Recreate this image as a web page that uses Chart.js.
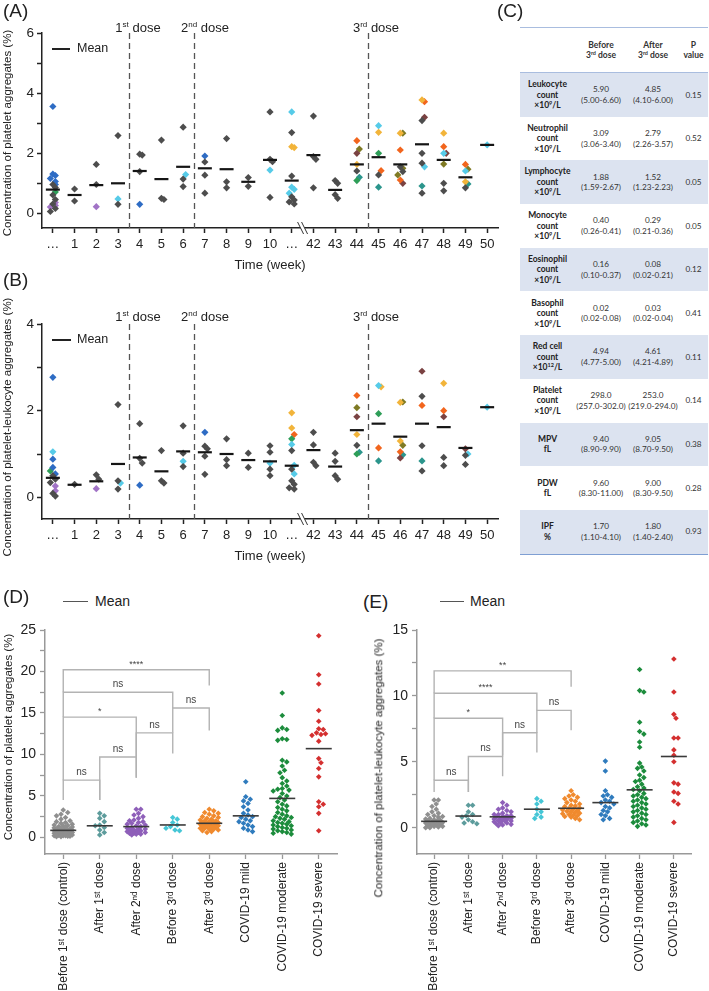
<!DOCTYPE html>
<html>
<head>
<meta charset="utf-8">
<script src="https://cdn.jsdelivr.net/npm/chart.js@4.4.1/dist/chart.umd.min.js"></script>
<style>
body { margin: 0; background: #fff; font-family: 'Liberation Sans', Arial, sans-serif; }
#page { position: relative; width: 709px; height: 991px; overflow: hidden; }
canvas { position: absolute; }
.t { position: absolute; white-space: nowrap; color: #222; line-height: 1; }
.panel { font-size: 19px; }
.dose { font-size: 13px; transform: translateX(-50%); }
.dose sup { font-size: 8px; }
.ytitle { position: absolute; white-space: nowrap; font-size: 11.5px; color: #222; line-height: 1;
  transform: translate(-50%, -50%) rotate(-90deg); }
.mline { position: absolute; height: 0; }
#tbl { position: absolute; left: 520px; top: 27px; width: 188px; border-collapse: collapse;
  font-family: Lato, 'Open Sans', sans-serif; font-size: 8.2px; color: #333; text-align: center;
  border-top: 1.5px solid #a9bddf; border-bottom: 1.5px solid #7f9fd3; }
#tbl td { padding: 0; line-height: 10.5px; }
#tbl tr.hd td { height: 44px; font-weight: bold; font-size: 8.5px; border-bottom: 1px solid #a9bddf; }
#tbl tr.row td { height: 43.7px; }
#tbl tr.row td:first-child { font-weight: bold; color: #222; font-size: 8.5px; }
#tbl tr.sh { background: #dce3f0; }
#tbl sup { font-size: 5.5px; vertical-align: 3px; line-height: 0; }
</style>
</head>
<body>
<div id="page">
  <canvas id="chartA" width="520" height="275" style="left:0;top:0;width:520px;height:275px"></canvas>
  <canvas id="chartB" width="520" height="275" style="left:0;top:291px;width:520px;height:275px"></canvas>
  <canvas id="chartD" width="355" height="376" style="left:0;top:615px;width:355px;height:376px"></canvas>
  <canvas id="chartE" width="354" height="376" style="left:355px;top:615px;width:354px;height:376px"></canvas>

  <div class="t panel" style="left:3px;top:1px">(A)</div>
  <div class="t panel" style="left:3px;top:270px">(B)</div>
  <div class="t panel" style="left:497px;top:1px">(C)</div>
  <div class="t panel" style="left:3px;top:587px">(D)</div>
  <div class="t panel" style="left:363px;top:592px">(E)</div>

  <div class="t dose" style="left:138px;top:21px">1<sup>st</sup> dose</div>
  <div class="t dose" style="left:205px;top:21px">2<sup>nd</sup> dose</div>
  <div class="t dose" style="left:376px;top:21px">3<sup>rd</sup> dose</div>
  <div class="t dose" style="left:138px;top:310px">1<sup>st</sup> dose</div>
  <div class="t dose" style="left:205px;top:310px">2<sup>nd</sup> dose</div>
  <div class="t dose" style="left:376px;top:310px">3<sup>rd</sup> dose</div>

  <div class="mline" style="left:52px;top:48px;width:18px;border-top:2px solid #222"></div>
  <div class="t" style="left:77px;top:42px;font-size:12.5px">Mean</div>
  <div class="mline" style="left:52px;top:339px;width:19px;border-top:2px solid #222"></div>
  <div class="t" style="left:77px;top:333px;font-size:12.5px">Mean</div>
  <div class="mline" style="left:63px;top:601px;width:25px;border-top:1.5px solid #555"></div>
  <div class="t" style="left:95px;top:594px;font-size:14px">Mean</div>
  <div class="mline" style="left:440px;top:601px;width:24px;border-top:1.5px solid #555"></div>
  <div class="t" style="left:470px;top:594px;font-size:14px">Mean</div>

  <div class="ytitle" style="left:8px;top:133px">Concentration of platelet aggregates (%)</div>
  <div class="ytitle" style="left:8px;top:427px">Concentration of platelet-leukocyte aggregates (%)</div>
  <div class="ytitle" style="left:9px;top:737px">Concentration of platelet aggregates (%)</div>
  <div class="ytitle" style="left:379px;top:768px">Concentration of platelet-leukocyte aggregates (%)</div>

  <table id="tbl"></table>
</div>

<script>
// ---- panels A / B : week time course ----
const weekLabels = ['…', '1', '2', '3', '4', '5', '6', '7', '8', '9', '10', '…', '42', '43', '44', '45', '46', '47', '48', '49', '50'];
const doseAt = [3.5, 6.5, 14.5];
const breakAt = 11.5;

// [week index, value]
const aDark = [[0,0.95],[0,0.85],[0,0.6],[0,0.45],[0,0.3],[0,0.15],[0,0.05],[1,0.8],[1,0.4],[2,1.62],[2,0.95],[3,2.58],[3,0.29],
  [4,1.96],[4,1.93],[4,1.38],[5,2.43],[5,0.49],[5,0.45],[6,2.86],[6,1.13],[6,0.88],[7,1.7],[7,1.26],[7,0.66],[8,2.48],[8,1.04],[8,0.84],
  [9,1.18],[9,0.89],[10,3.37],[10,1.79],[10,1.71],[10,0.52],[11,2.68],[11,1.23],[11,0.54],[11,0.43],[11,0.37],[11,0.3],
  [12,3.23],[12,1.88],[12,1.79],[12,0.84],[13,1.08],[13,0.99],[13,0.61],[13,0.49],[14,1.4],[15,1.27],[16,1.54],[16,1.38],
  [17,3.08],[17,1.99],[17,1.66],[17,0.66],[18,0.99],[18,0.74],[19,0.84]];
const aBlue = [[0,3.55],[0,1.3],[0,1.25],[0,1.15],[0,1.05],[0,0.95],[4,0.29],[7,1.9]];
const aCyan = [[3,0.47],[6,1.28],[10,1.43],[11,3.37],[11,0.86],[11,0.79],[11,0.66],[15,2.91],[17,1.54],[18,1.99],[19,1.4],[20,2.27]];
const aGreen = [[0,0.7],[14,1.08],[15,1.99]];
const aPurple = [[0,0.35],[0,0.25],[0,0.2],[2,0.21]];
const aGold = [[11,2.21],[11,2.18],[14,1.62],[15,2.69],[16,2.66],[17,3.77],[18,2.66],[19,1.04]];
const aOrange = [[14,2.41],[15,1.41],[16,2.1],[16,1.1],[17,3.71],[18,2.21],[19,1.62]];
const aBrown = [[14,1.99],[16,0.99],[17,3.19],[18,1.99]];
const aOlive = [[14,2.13],[16,2.66],[16,1.49],[16,1.27],[18,1.63],[19,1.46]];
const aTeal = [[14,1.19],[15,0.86],[17,0.9],[19,0.97]];
const aMean = [0.78, 0.6, 0.93, 0.99, 1.4, 1.13, 1.54, 1.49, 1.46, 1.04, 1.77, 1.08, 1.93, 0.77, 1.62, 1.86, 1.62, 2.29, 1.77, 1.19, 2.27];

const bDark = [[0,0.5],[0,0.42],[0,0.34],[0,0.09],[0,0.03],[1,0.3],[2,0.52],[2,0.42],[3,2.14],[3,0.38],[3,0.19],
  [4,1.7],[4,0.9],[4,0.79],[5,1.08],[5,0.38],[5,0.33],[6,1.65],[6,1.02],[6,0.71],[7,1.18],[7,1.12],[7,0.95],[7,0.53],
  [8,1.35],[8,0.87],[8,0.73],[9,1.02],[9,0.69],[10,1.19],[10,1.04],[10,0.65],[10,0.5],
  [11,1.08],[11,0.65],[11,0.38],[11,0.3],[11,0.22],[11,0.19],[12,1.5],[12,1.21],[12,0.81],[12,0.73],
  [13,1.02],[13,0.83],[13,0.5],[13,0.42],[14,1.2],[17,2.33],[17,1.19],[17,0.61],[18,0.92],[18,0.73],[19,0.97],[19,0.76]];
const bBlue = [[0,2.77],[0,0.88],[0,0.69],[0,0.54],[4,0.28],[7,1.5]];
const bCyan = [[0,1.05],[3,0.33],[6,0.83],[10,0.79],[11,1.22],[11,0.74],[11,0.54],[15,2.58],[19,1.0],[20,2.08]];
const bGreen = [[0,0.61],[11,1.35],[14,1.0],[15,1.93]];
const bPurple = [[0,0.26],[0,0.15],[2,0.2]];
const bGold = [[11,1.95],[11,1.6],[14,1.45],[15,2.55],[16,2.19],[16,1.3],[18,2.63]];
const bOrange = [[11,1.45],[14,2.35],[15,1.14],[16,1.05],[17,2.12],[18,2.0]];
const bBrown = [[14,1.86],[16,0.91],[17,2.91],[18,1.86],[19,1.12]];
const bOlive = [[14,2.07],[16,2.2],[16,1.2]];
const bTeal = [[14,1.04],[15,0.84],[16,0.98],[17,0.84]];
const bMean = [0.45, 0.29, 0.37, 0.77, 0.92, 0.6, 1.06, 1.04, 1.0, 0.86, 0.83, 0.73, 1.09, 0.71, 1.55, 1.7, 1.4, 1.7, 1.62, 1.14, 2.08];

// ---- panels D / E : groups ----
const groupLabels = ['Before 1ˢᵗ dose (control)', 'After 1ˢᵗ dose', 'After 2ⁿᵈ dose', 'Before 3ʳᵈ dose',
  'After 3ʳᵈ dose', 'COVID-19 mild', 'COVID-19 moderate', 'COVID-19 severe'];

const dControl = [3.3, 3.0, 2.8, 2.6, 2.4, 2.2, 2.0, 1.9, 1.8, 1.7, 1.6, 1.5, 1.45, 1.4, 1.3, 1.25, 1.2, 1.15, 1.1, 1.05, 1.0,
  0.95, 0.9, 0.9, 0.85, 0.8, 0.8, 0.75, 0.7, 0.7, 0.65, 0.6, 0.6, 0.55, 0.5, 0.5, 0.45, 0.4, 0.4, 0.35, 0.3, 0.3, 0.25,
  0.2, 0.2, 0.15, 0.1, 0.1, 0.2, 0.3, 0.4, 0.5, 0.6, 0.35, 0.45, 0.55, 0.25, 0.15, 0.5, 0.6, 0.7, 0.3];
const dAfter1 = [2.9, 2.6, 2.3, 1.9, 1.5, 1.4, 1.2, 0.9, 0.6, 0.3];
const dAfter2 = [3.4, 3.4, 2.9, 2.7, 2.5, 2.3, 2.1, 2.0, 1.9, 1.8, 1.7, 1.6, 1.5, 1.4, 1.3, 1.2, 1.1, 1.0, 1.0, 0.9, 0.9,
  0.8, 0.8, 0.7, 0.7, 0.6, 0.6, 0.5, 0.5, 0.4, 0.4, 0.3];
const dBefore3 = [2.4, 2.2, 1.8, 1.5, 1.3, 1.1, 0.9, 0.8];
const dAfter3 = [3.4, 3.2, 3.0, 2.9, 2.8, 2.6, 2.5, 2.4, 2.3, 2.2, 2.1, 2.0, 2.0, 1.9, 1.9, 1.8, 1.8, 1.7, 1.7, 1.6, 1.6,
  1.5, 1.5, 1.4, 1.4, 1.3, 1.3, 1.2, 1.2, 1.1, 1.1, 1.0, 1.0, 0.9, 0.8, 0.7, 0.6];
const dMild = [6.7, 4.9, 4.6, 4.4, 4.1, 3.7, 3.3, 2.9, 2.7, 2.5, 2.4, 2.2, 2.0, 1.9, 1.7, 1.5, 1.3, 1.1, 0.9, 0.7];
const dModerate = [17.4, 14.7, 13.2, 13.0, 12.9, 11.9, 11.8, 11.7, 9.3, 9.1, 8.6, 8.1, 7.8, 7.2, 6.8, 6.5, 6.2, 5.9, 5.8,
  5.7, 5.6, 5.3, 5.0, 4.8, 4.5, 4.3, 4.0, 3.8, 3.6, 3.4, 3.2, 3.0, 2.8, 2.6, 2.5, 2.4, 2.3, 2.2, 2.0, 1.9, 1.8, 1.7,
  1.6, 1.5, 1.4, 1.3, 1.2, 1.1, 1.0, 0.9, 0.8, 0.7, 0.6, 0.5, 0.4];
const dSevere = [24.3, 19.6, 18.5, 15.3, 14.0, 13.1, 13.0, 12.6, 12.4, 12.5, 12.3, 11.6, 9.5, 9.0, 8.3, 7.3, 4.3, 4.0, 3.7, 2.9, 0.8];
const dMean = [0.85, 1.4, 1.3, 1.5, 1.7, 2.6, 4.7, 10.7];

const eControl = [2.1, 2.1, 1.8, 1.6, 1.4, 1.2, 1.1, 1.0, 0.9, 0.85, 0.8, 0.7, 0.65, 0.6, 0.55, 0.5, 0.5, 0.45, 0.4, 0.4,
  0.35, 0.3, 0.3, 0.25, 0.2, 0.2, 0.15, 0.1, 0.1, 0.05, 0.0, 0.0, 0.3, 0.6, 0.2, 0.4];
const eAfter1 = [1.7, 1.7, 1.2, 1.0, 0.9, 0.8, 0.6, 0.45, 0.35, 0.3];
const eAfter2 = [1.9, 1.7, 1.5, 1.4, 1.3, 1.2, 1.1, 1.0, 1.0, 0.9, 0.9, 0.85, 0.8, 0.8, 0.75, 0.7, 0.7, 0.65, 0.6, 0.6,
  0.55, 0.5, 0.5, 0.45, 0.4, 0.35, 0.3, 0.25, 0.2, 0.15];
const eBefore3 = [2.2, 2.0, 1.8, 1.4, 1.2, 1.0, 0.8, 0.7];
const eAfter3 = [2.8, 2.5, 2.4, 2.3, 2.2, 2.1, 2.0, 1.9, 1.8, 1.7, 1.65, 1.6, 1.5, 1.45, 1.4, 1.35, 1.3, 1.25, 1.2, 1.15,
  1.1, 1.05, 1.0, 0.95, 0.9, 0.85, 0.8, 0.7, 0.6];
const eMild = [5.05, 4.3, 2.8, 2.5, 2.4, 2.3, 2.1, 2.0, 1.9, 1.8, 1.6, 1.5, 1.3, 1.2, 1.0, 0.9, 0.7, 0.6];
const eModerate = [12.0, 10.4, 10.3, 8.0, 7.3, 7.1, 6.5, 6.1, 4.9, 4.6, 4.5, 4.3, 4.0, 3.8, 3.6, 3.5, 3.3, 3.1, 3.0, 2.9,
  2.8, 2.6, 2.5, 2.4, 2.3, 2.2, 2.1, 2.0, 1.9, 1.8, 1.7, 1.6, 1.5, 1.4, 1.3, 1.2, 1.1, 1.0, 0.9, 0.8, 0.7, 0.6, 0.5,
  0.4, 0.3, 0.2, 0.1];
const eSevere = [12.8, 10.3, 8.6, 8.3, 6.8, 6.8, 5.9, 5.5, 5.0, 3.4, 3.3, 2.7, 2.6, 2.0, 1.8, 0.4];
const eMean = [0.48, 0.88, 0.82, 1.4, 1.47, 1.9, 2.87, 5.4];

// significance brackets: [from, to, top, left leg end, right leg end]
const dBrackets = [[0,4,20.2,17.5,18.3],[0,3,17.5,14.5,15.6],[0,2,14.5,6.9,7.2],[3,4,15.6,12.6,12.9],[2,3,12.6,9.7,10.1],[1,2,9.7,4.5,7.2],[0,1,6.9,4.5,4.5]];
const dSig = ['****', 'ns', '*', 'ns', 'ns', 'ns', 'ns'];
const eBrackets = [[0,4,11.9,10.2,10.7],[0,3,10.2,8.3,8.9],[0,2,8.3,3.6,5.5],[3,4,8.9,7.2,7.4],[2,3,7.2,5.4,5.7],[1,2,5.4,2.7,3.9],[0,1,3.6,2.7,2.7]];
const eSig = ['**', '****', '*', 'ns', 'ns', 'ns', 'ns'];

// ---- panel C : table ----
const tblNames = ['Leukocyte<br>count<br>×10<sup>9</sup>/L', 'Neutrophil<br>count<br>×10<sup>9</sup>/L', 'Lymphocyte<br>count<br>×10<sup>9</sup>/L',
  'Monocyte<br>count<br>×10<sup>9</sup>/L', 'Eosinophil<br>count<br>×10<sup>9</sup>/L', 'Basophil<br>count<br>×10<sup>9</sup>/L',
  'Red cell<br>count<br>×10<sup>12</sup>/L', 'Platelet<br>count<br>×10<sup>9</sup>/L', 'MPV<br>fL', 'PDW<br>fL', 'IPF<br>%'];
const tblBefore = ['5.90', '3.09', '1.88', '0.40', '0.16', '0.02', '4.94', '298.0', '9.40', '9.60', '1.70'];
const tblBeforeRange = ['5.00-6.60', '3.06-3.40', '1.59-2.67', '0.26-0.41', '0.10-0.37', '0.02-0.08', '4.77-5.00', '257.0-302.0', '8.90-9.90', '8.30-11.00', '1.10-4.10'];
const tblAfter = ['4.85', '2.79', '1.52', '0.29', '0.08', '0.03', '4.61', '253.0', '9.05', '9.00', '1.80'];
const tblAfterRange = ['4.10-6.00', '2.26-3.57', '1.23-2.23', '0.21-0.36', '0.02-0.21', '0.02-0.04', '4.21-4.89', '219.0-294.0', '8.70-9.50', '8.30-9.50', '1.40-2.40'];
const tblP = ['0.15', '0.52', '0.05', '0.05', '0.12', '0.41', '0.11', '0.14', '0.38', '0.28', '0.93'];

const weekColors = { dark: '#4d4d4d', blue: '#2e6cc4', cyan: '#56cbe8', green: '#2e9e58', purple: '#a173c6',
  gold: '#f2b43a', orange: '#f2651d', brown: '#7a4242', olive: '#7f7a24', teal: '#2b958c' };
const groupColors = ['#8f8f8f', '#5d9c9c', '#8e5fb9', '#45c6d6', '#f08a2e', '#2f7bbd', '#1c8c3c', '#d42f2f'];

// simple beeswarm so points with close values sit side by side
function swarm(groups, pxX, pxY, diam, maxOff) {
  const placed = {};
  return groups.map(g => g.map(([c, v]) => {
    const list = placed[c] || (placed[c] = []);
    const py = v * pxY;
    let best = 0, bestD = -1;
    for (let k = 0; ; k++) {
      const off = (k % 2 ? 1 : -1) * Math.ceil(k / 2) * diam * 0.5;
      if (Math.abs(off) > maxOff) break;
      let dmin = Infinity;
      for (const p of list) dmin = Math.min(dmin, Math.hypot(p[0] - off, p[1] - py));
      if (dmin >= diam) { best = off; break; }
      if (dmin > bestD) { bestD = dmin; best = off; }
    }
    list.push([best, py]);
    return { x: c + best / pxX, y: v };
  }));
}

const extras = {
  id: 'extras',
  beforeDatasetsDraw(chart, args, o) {
    if (!o.dashes) return;
    const { ctx, chartArea: a, scales: { x } } = chart;
    ctx.save();
    ctx.setLineDash([6, 4]);
    ctx.strokeStyle = '#555';
    ctx.lineWidth = 1.3;
    o.dashes.forEach(d => {
      const px = Math.round(x.getPixelForValue(d)) + 0.5;
      ctx.beginPath(); ctx.moveTo(px, a.top); ctx.lineTo(px, a.bottom); ctx.stroke();
    });
    ctx.restore();
  },
  afterDraw(chart, args, o) {
    const { ctx, chartArea: a, scales: { x, y } } = chart;
    if (o.breakAt != null) {
      const px = x.getPixelForValue(o.breakAt), py = a.bottom;
      ctx.save();
      ctx.fillStyle = '#fff';
      ctx.beginPath();
      ctx.moveTo(px - 5, py - 6); ctx.lineTo(px - 1, py - 6); ctx.lineTo(px + 5, py + 6); ctx.lineTo(px + 1, py + 6);
      ctx.closePath(); ctx.fill();
      ctx.strokeStyle = '#333'; ctx.lineWidth = 1;
      ctx.beginPath();
      ctx.moveTo(px - 5, py - 6); ctx.lineTo(px + 1, py + 6);
      ctx.moveTo(px - 1, py - 6); ctx.lineTo(px + 5, py + 6);
      ctx.stroke();
      ctx.restore();
    }
    if (o.brackets) {
      ctx.save();
      ctx.fillStyle = '#444';
      ctx.textAlign = 'center';
      ctx.textBaseline = 'bottom';
      o.brackets.forEach((b, i) => {
        const s = o.sig[i];
        ctx.font = (s === 'ns' ? '10px' : '9px') + " 'Liberation Sans', Arial, sans-serif";
        ctx.fillText(s, x.getPixelForValue((b[0] + b[1]) / 2), y.getPixelForValue(b[2]) - (s === 'ns' ? 3 : 1));
      });
      ctx.restore();
    }
  }
};
Chart.register(extras);

const FONT = "'Liberation Sans', Arial, sans-serif";

function weekChart(id, series, means, yMax, pxY) {
  const names = Object.keys(series);
  const jittered = swarm(names.map(n => series[n]), 21.7, pxY, 5, 4);
  const datasets = [{
    data: means.map((v, i) => ({ x: i, y: v })),
    pointStyle: 'line', pointRadius: 7, borderWidth: 2.2, borderColor: '#151515', order: 0
  }];
  names.forEach((n, i) => datasets.push({
    data: jittered[i], pointStyle: 'rectRot', pointRadius: 3.6, borderWidth: 0,
    backgroundColor: weekColors[n], order: 1
  }));
  return new Chart(document.getElementById(id), {
    type: 'scatter',
    data: { datasets },
    options: {
      responsive: false, animation: false,
      layout: { padding: { top: 33, right: 22, left: 0, bottom: 0 } },
      plugins: { legend: { display: false }, tooltip: { enabled: false },
        extras: { dashes: doseAt, breakAt: breakAt } },
      scales: {
        x: {
          type: 'linear', min: -0.5, max: 20.5,
          afterBuildTicks: s => { s.ticks = weekLabels.map((_, i) => ({ value: i })); },
          afterFit: s => { s.height = 47; },
          ticks: { callback: v => weekLabels[v], autoSkip: false, maxRotation: 0, padding: 4,
            font: { family: FONT, size: 13 }, color: '#222' },
          grid: { drawOnChartArea: false, tickLength: 5, tickColor: '#222', tickWidth: 1.5 },
          border: { color: '#222', width: 1.5 },
          title: { display: true, text: 'Time (week)', font: { family: FONT, size: 13 }, color: '#222',
            padding: { top: 0, bottom: 2 } }
        },
        y: {
          min: -0.5, max: yMax,
          afterBuildTicks: s => { const t = []; for (let v = 0; v <= yMax; v++) t.push({ value: v }); s.ticks = t; },
          afterFit: s => { s.width = 42; },
          ticks: { callback: v => (v % 2 === 0 ? v : ''), padding: 3, font: { family: FONT, size: 13.5 }, color: '#222' },
          grid: { drawOnChartArea: false, tickLength: 5, tickColor: '#222', tickWidth: 1.5 },
          border: { color: '#222', width: 1.5 }
        }
      }
    }
  });
}

function groupChart(id, groups, means, brackets, sig, yMax, pxY, leftW) {
  const jittered = swarm(groups.map((g, c) => g.map(v => [c, v])), 36.4, pxY, 4.5, 11);
  const datasets = [{
    data: means.map((v, i) => ({ x: i, y: v })),
    pointStyle: 'line', pointRadius: 13, borderWidth: 1.6, borderColor: '#3a3a3a', order: 0
  }];
  groups.forEach((g, i) => datasets.push({
    data: jittered[i], pointStyle: 'rectRot', pointRadius: 2.8, borderWidth: 0,
    backgroundColor: groupColors[i], order: 1
  }));
  brackets.forEach(b => datasets.push({
    data: [{ x: b[0], y: b[3] }, { x: b[0], y: b[2] }, { x: b[1], y: b[2] }, { x: b[1], y: b[4] }],
    showLine: true, pointRadius: 0, borderColor: '#b3b3b3', borderWidth: 1.4, order: 2
  }));
  return new Chart(document.getElementById(id), {
    type: 'scatter',
    data: { datasets },
    options: {
      responsive: false, animation: false,
      layout: { padding: { top: 15, right: 18, left: 0, bottom: 0 } },
      plugins: { legend: { display: false }, tooltip: { enabled: false },
        extras: { brackets: brackets, sig: sig } },
      scales: {
        x: {
          type: 'linear', min: -0.5, max: 7.5,
          afterBuildTicks: s => { s.ticks = groupLabels.map((_, i) => ({ value: i })); },
          afterFit: s => { s.height = 137; },
          ticks: { callback: v => groupLabels[v], autoSkip: false, minRotation: 90, maxRotation: 90, padding: 3,
            font: { family: FONT, size: 12 }, color: '#222' },
          grid: { drawOnChartArea: false, tickLength: 5, tickColor: '#999', tickWidth: 1.3 },
          border: { color: '#999', width: 1.5 }
        },
        y: {
          min: -2, max: yMax,
          afterBuildTicks: s => { const t = []; for (let v = 0; v <= yMax; v += 2.5) t.push({ value: v }); s.ticks = t; },
          afterFit: s => { s.width = leftW; },
          ticks: { callback: v => (v % 5 === 0 ? v : ''), padding: 4, font: { family: FONT, size: 14 }, color: '#222' },
          grid: { drawOnChartArea: false, tickLength: 5, tickColor: '#999', tickWidth: 1.3 },
          border: { color: '#999', width: 1.5 }
        }
      }
    }
  });
}

weekChart('chartA', { dark: aDark, blue: aBlue, cyan: aCyan, green: aGreen, purple: aPurple, gold: aGold,
  orange: aOrange, brown: aBrown, olive: aOlive, teal: aTeal }, aMean, 6, 30);
weekChart('chartB', { dark: bDark, blue: bBlue, cyan: bCyan, green: bGreen, purple: bPurple, gold: bGold,
  orange: bOrange, brown: bBrown, olive: bOlive, teal: bTeal }, bMean, 4, 43.6);
groupChart('chartD', [dControl, dAfter1, dAfter2, dBefore3, dAfter3, dMild, dModerate, dSevere], dMean,
  dBrackets, dSig, 25, 8.3, 45);
groupChart('chartE', [eControl, eAfter1, eAfter2, eBefore3, eAfter3, eMild, eModerate, eSevere], eMean,
  eBrackets, eSig, 15, 13.2, 62);

// table
let html = '<colgroup><col style="width:55px"><col style="width:52px"><col style="width:52px"><col style="width:29px"></colgroup>' +
  '<tr class="hd"><td></td><td>Before<br>3<sup>rd</sup> dose</td><td>After<br>3<sup>rd</sup> dose</td><td>P<br>value</td></tr>';
tblNames.forEach((n, i) => {
  html += '<tr class="row' + (i % 2 === 0 ? ' sh' : '') + '"><td>' + n + '</td><td>' + tblBefore[i] + '<br>(' + tblBeforeRange[i] +
    ')</td><td>' + tblAfter[i] + '<br>(' + tblAfterRange[i] + ')</td><td>' + tblP[i] + '</td></tr>';
});
document.getElementById('tbl').innerHTML = html;
</script>
</body>
</html>
